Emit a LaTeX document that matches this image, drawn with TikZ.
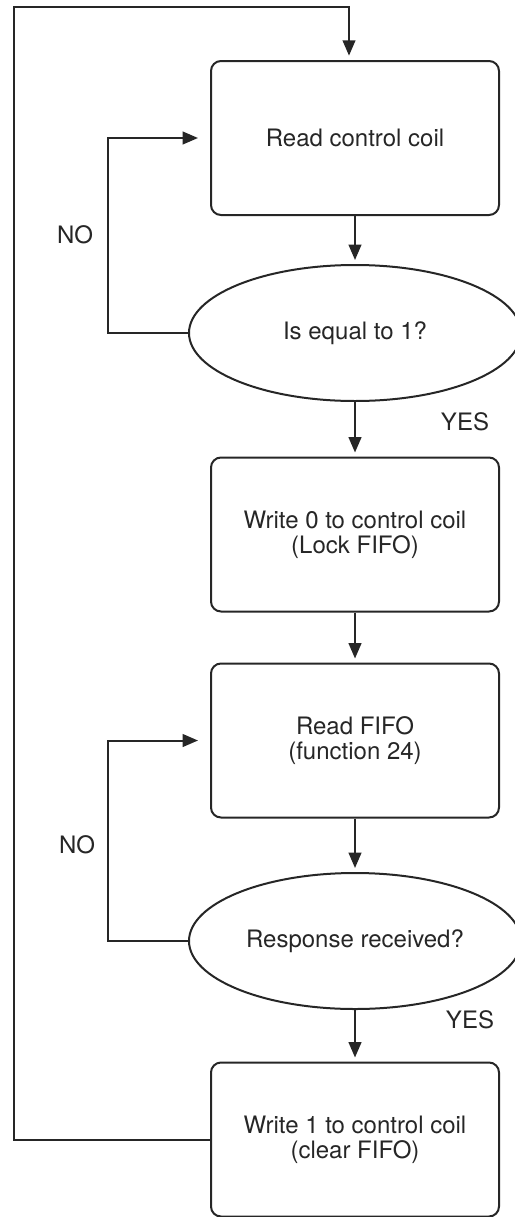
\documentclass[tikz,border=0pt]{standalone}
\usepackage{fontspec}
\setmainfont{TeX Gyre Heros}
\usetikzlibrary{arrows.meta,shapes.geometric}
\tikzset{
  base/.style={draw=black!85, line width=1.5pt, font=\fontsize{18}{18.9}\selectfont, text=black!85, align=center, inner sep=0pt},
  stepbox/.style={base, rectangle, rounded corners=7.5pt, minimum width=216pt, minimum height=115.5pt},
  decision/.style={base, ellipse, minimum width=249pt, minimum height=102pt},
  flow/.style={draw=black!85, line width=1.5pt, -{Triangle[length=11.5pt,width=9.5pt]}, shorten >=3pt},
  loopback/.style={flow, shorten >=9pt},
  tag/.style={font=\fontsize{18}{18.9}\selectfont, text=black!85, inner sep=0pt}
}
\begin{document}
\begin{tikzpicture}[x=0.75pt,y=-0.75pt]
\useasboundingbox (0,0) rectangle (514,1217);

% process steps and decisions
\node[stepbox]  (b1) at (355,138)   {Read control coil};
\node[decision] (e1) at (355,333)   {Is equal to 1?};
\node[stepbox]  (b2) at (355,534.5) {Write 0 to control coil\\(Lock FIFO)};
\node[stepbox]  (b3) at (355,740.5) {Read FIFO\\(function 24)};
\node[decision] (e2) at (355,941)   {Response received?};
\node[stepbox]  (b4) at (355,1139.5){Write 1 to control coil\\(clear FIFO)};

% branch labels
\node[tag] (no1)  at (75,235)   {NO};
\node[tag] (yes1) at (465,422)  {YES};
\node[tag] (no2)  at (77,845)   {NO};
\node[tag] (yes2) at (470,1020) {YES};

% guide points for the return paths
\coordinate (loopx) at (108,0);
\coordinate (outer) at (14,7);
\coordinate (entry) at (349,61);

% main sequence
\draw[flow] (b1.south) -- (e1.north);
\draw[flow] (e1.south) -- (b2.north);
\draw[flow] (b2.south) -- (b3.north);
\draw[flow] (b3.south) -- (e2.north);
\draw[flow] (e2.south) -- (b4.north);

% NO branches
\draw[loopback] (e1.west) -| (loopx |- b1.west) -- (b1.west);
\draw[loopback] (e2.west) -| (loopx |- b3.west) -- (b3.west);

% return to start
\draw[flow, shorten >=4pt] (b4.west) -| (outer) -| (entry);
\end{tikzpicture}
\end{document}
